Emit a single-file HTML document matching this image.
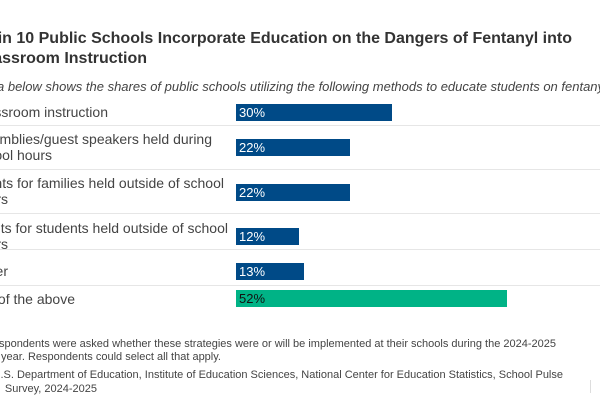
<!DOCTYPE html>
<html><head><meta charset="utf-8"><style>
body{margin:0;width:600px;height:400px;overflow:hidden;background:#fff;position:relative;font-family:"Liberation Sans",sans-serif;color:#333}
.r{position:absolute;white-space:nowrap;text-align:right}
.l{position:absolute;white-space:nowrap}
.t{font-weight:bold;font-size:16px;color:#333;line-height:20px}
.lab{font-size:14px;line-height:17px;color:#444}
.bar{position:absolute;left:236px;height:17px;background:#004a87;color:#fff;font-size:13px;line-height:17px;padding-left:3px;box-sizing:border-box}
.sep{position:absolute;left:0;width:600px;height:1px;background:#e6e6e6}
.n{font-size:11px;line-height:14px;color:#444}
</style></head><body>
<div class="r t" style="right:28px;top:29px">Four in 10 Public Schools Incorporate Education on the Dangers of Fentanyl into</div>
<div class="r t" style="right:453px;top:49px">Classroom Instruction</div>
<div class="l" style="left:-3px;top:79px;font-size:13px;font-style:italic;color:#444">a below shows the shares of public schools utilizing the following methods to educate students on fentanyl</div>

<div class="r lab" style="right:492px;top:104px">Classroom instruction</div>
<div class="bar" style="top:104px;width:156px">30%</div>
<div class="sep" style="top:125px"></div>

<div class="r lab" style="right:388px;top:131px">Assemblies/guest speakers held during</div>
<div class="r lab" style="right:548px;top:147px">school hours</div>
<div class="bar" style="top:139px;width:114px">22%</div>
<div class="sep" style="top:169px"></div>

<div class="r lab" style="right:376px;top:175px">Events for families held outside of school</div>
<div class="r lab" style="right:592px;top:191px">hours</div>
<div class="bar" style="top:184px;width:114px">22%</div>
<div class="sep" style="top:213px"></div>

<div class="r lab" style="right:372px;top:220px">Events for students held outside of school</div>
<div class="r lab" style="right:592px;top:236px">hours</div>
<div class="bar" style="top:228px;width:63px">12%</div>
<div class="sep" style="top:249px"></div>

<div class="r lab" style="right:592px;top:263px">Other</div>
<div class="bar" style="top:263px;width:68px">13%</div>
<div class="sep" style="top:285px"></div>

<div class="r lab" style="right:525px;top:291px">None of the above</div>
<div class="bar" style="top:290px;width:271px;background:#00b386;color:#111">52%</div>

<div class="r n" style="right:44px;top:337px">Note: Respondents were asked whether these strategies were or will be implemented at their schools during the 2024-2025</div>
<div class="r n" style="right:379px;top:350px">school year. Respondents could select all that apply.</div>
<div class="r n" style="right:37px;top:368px">Source: U.S. Department of Education, Institute of Education Sciences, National Center for Education Statistics, School Pulse</div>
<div class="r n" style="right:503px;top:382px">Survey, 2024-2025</div>
<div style="position:absolute;left:590px;top:380px;width:1px;height:13px;background:#ddd"></div>
</body></html>
